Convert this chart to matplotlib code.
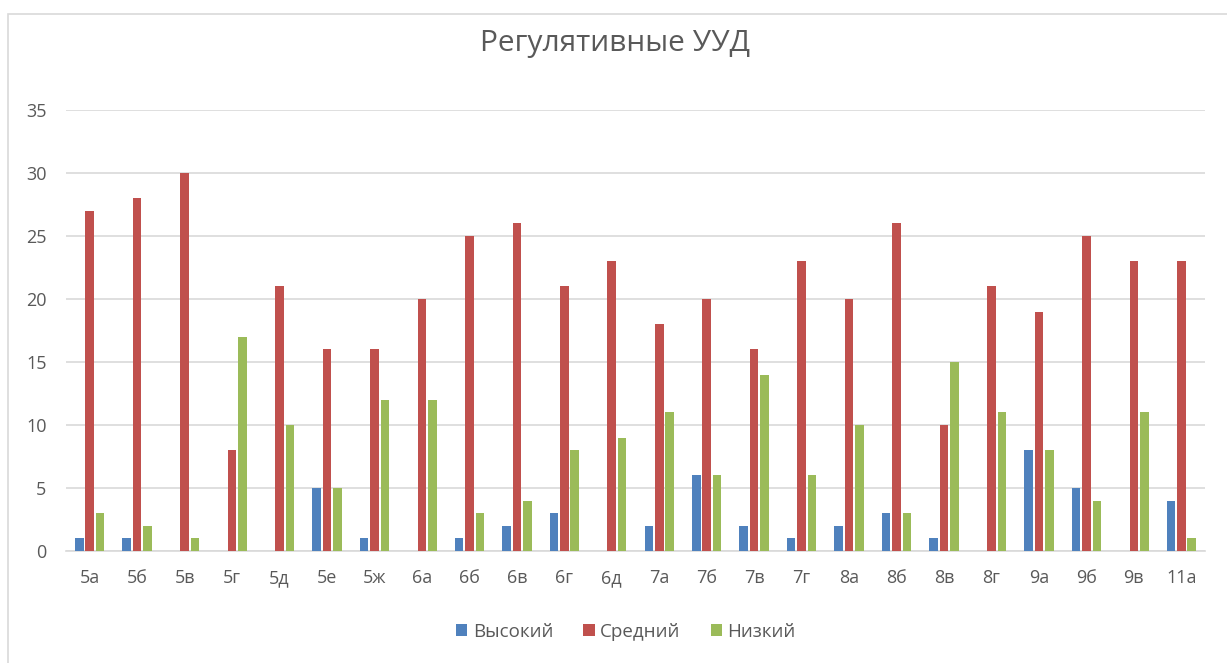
import matplotlib
matplotlib.use("Agg")
import matplotlib.pyplot as plt
import numpy as np
from matplotlib.patches import Rectangle

plt.rcParams['font.family'] = ['Open Sans', 'DejaVu Sans']

categories = ["5а", "5б", "5в", "5г", "5д", "5е", "5ж", "6а", "6б", "6в", "6г", "6д",
              "7а", "7б", "7в", "7г", "8а", "8б", "8в", "8г", "9а", "9б", "9в", "11а"]
high = [1, 1, 0, 0, 0, 5, 1, 0, 1, 2, 3, 0, 2, 6, 2, 1, 2, 3, 1, 0, 8, 5, 0, 4]
medium = [27, 28, 30, 8, 21, 16, 16, 20, 25, 26, 21, 23, 18, 20, 16, 23, 20, 26, 10, 21, 19, 25, 23, 23]
low = [3, 2, 1, 17, 10, 5, 12, 12, 3, 4, 8, 9, 11, 6, 14, 6, 10, 3, 15, 11, 8, 4, 11, 1]
series_names = ["Высокий", "Средний", "Низкий"]
colors = ["#4F81BD", "#C0504D", "#9BBB59"]
title = "Регулятивные УУД"

fig = plt.figure(figsize=(12.27, 6.63), dpi=100)
fig.patches.append(Rectangle((8/1227, -0.01), 1.02, 1 - 14/663 + 0.01, transform=fig.transFigure,
                             fill=False, edgecolor="#D9D9D9", linewidth=1.2))
ax = fig.add_axes([66/1227, 1 - 551/663, (1205 - 66)/1227, (551 - 110)/663])

x = np.arange(len(categories))
step = 0.22
width = 0.18
for i, (vals, name, c) in enumerate(zip([high, medium, low], series_names, colors)):
    ax.bar(x + (i - 1) * step, vals, width=width, color=c, label=name, zorder=3)

ax.set_xlim(-0.5, len(categories) - 0.5)
ax.set_ylim(0, 35)
ax.set_yticks(range(0, 36, 5))
ax.set_xticks(x)
ax.set_xticklabels(categories)
ax.grid(axis='y', color="#D9D9D9", linewidth=1.2, zorder=0)
for s in ["top", "right", "left"]:
    ax.spines[s].set_visible(False)
ax.spines["bottom"].set_color("#D9D9D9")
ax.spines["bottom"].set_linewidth(1.2)
ax.tick_params(axis='both', length=0, labelsize=13, colors="#595959")
ax.tick_params(axis='x', pad=13)
ax.tick_params(axis='y', pad=14)

fig.text(615/1227, 1 - 43/663, title, ha='center', va='center', fontsize=21.5, color="#595959")
leg = fig.legend(loc='center', bbox_to_anchor=(626/1227, 1 - 632/663), ncol=3, frameon=False,
                 fontsize=13.5, handlelength=0.6, handleheight=0.6, handletextpad=0.3, columnspacing=1.6,
                 labelcolor="#595959")

fig.savefig("out.png", dpi=100)
